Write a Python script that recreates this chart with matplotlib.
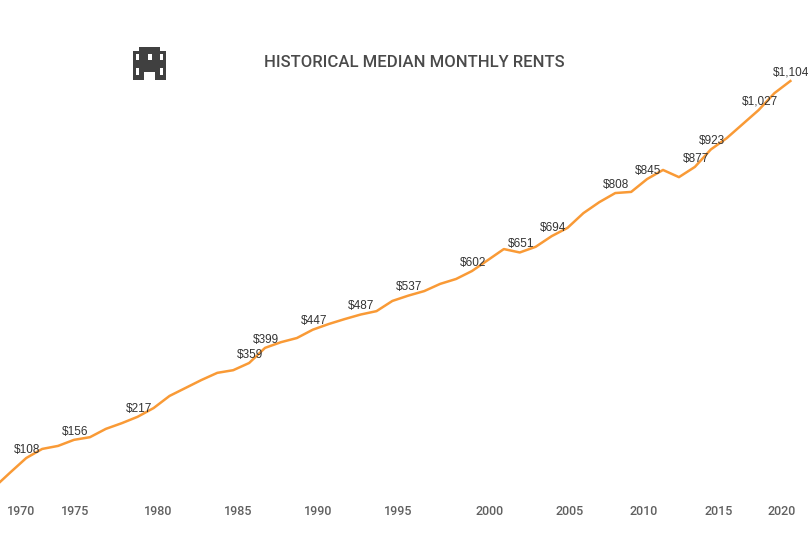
import matplotlib
matplotlib.use("Agg")
import matplotlib.pyplot as plt
from matplotlib.patches import Rectangle
import numpy as np

# median monthly rent, one value per point on the line
rent = [31, 70, 108, 132, 140, 156, 163, 185, 200, 217, 240, 272, 293, 314, 333, 340, 359,
        399, 414, 425, 447, 462, 475, 487, 496, 523, 537, 549, 568, 581, 602, 631, 660, 651,
        666, 694, 716, 755, 784, 808, 811, 845, 869, 850, 877, 923, 953, 990, 1027, 1072, 1104]
labelled = [108, 156, 217, 359, 399, 447, 487, 537, 602, 651, 694, 808, 845, 877, 923, 1027, 1104]

# the axis in the source is not evenly spaced, so labels sit at point positions
tick_labels = ["1970", "1975", "1980", "1985", "1990", "1995", "2000", "2005", "2010", "2015", "2020"]
tick_pos = [1.70, 5.09, 10.31, 15.34, 20.36, 25.39, 31.11, 36.14, 40.79, 45.50, 49.46]

W, H = 809, 545
fig = plt.figure(figsize=(W / 100, H / 100), dpi=100)
ax = fig.add_axes([0, 48 / H, 1, 497 / H])

x = np.arange(len(rent))
ax.plot(x, rent, color="#F99A36", lw=1.8, solid_joinstyle="round")
ax.set_xlim(0.35, 51.17)
ax.set_ylim(5, 1318)

for i, v in zip(x, rent):
    if v in labelled:
        ax.annotate(f"${v:,}", (i, v), xytext=(0.7, 5.9), textcoords="offset points",
                    ha="center", va="center", fontsize=8.5, color="#333333",
                    family="Liberation Sans")

ax.set_xticks(tick_pos, tick_labels, fontfamily="Roboto", fontweight="medium",
              fontsize=9, color="#606060")
ax.tick_params(axis="x", length=0, pad=5.5)
ax.set_yticks([])
for s in ax.spines.values():
    s.set_visible(False)

fig.text(414 / W, 1 - 62.5 / H, "HISTORICAL MEDIAN MONTHLY RENTS", ha="center", va="center",
         fontfamily="Roboto", fontweight="medium", fontsize=12, color="#4A4A4A")

# building icon
icon = fig.add_axes([0, 0, 1, 1], facecolor="none")
icon.set_xlim(0, W)
icon.set_ylim(H, 0)
icon.axis("off")
dark = "#404040"
icon.add_patch(Rectangle((133, 50.7), 33.3, 29.6, color=dark, lw=0))
icon.add_patch(Rectangle((139, 47.3), 21, 4, color=dark, lw=0))
for wx, wy, ww, wh in [(136, 53.5, 3.4, 6.5), (148, 53.5, 3.8, 6.5), (160, 53.5, 3.4, 6.5),
                       (136, 68.3, 3.4, 6.7), (160, 68.3, 3.4, 6.7), (144.5, 72.3, 10.5, 8)]:
    icon.add_patch(Rectangle((wx, wy), ww, wh, color="white", lw=0))

fig.savefig("out.png", dpi=100)
